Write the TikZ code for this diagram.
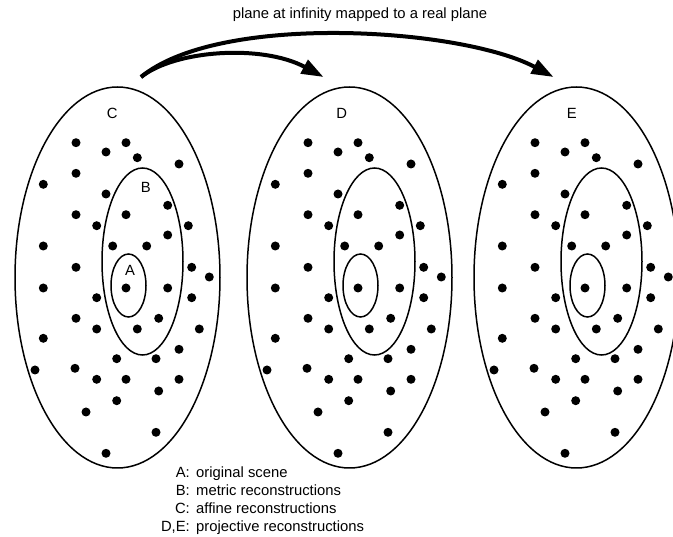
\documentclass[tikz,border=0pt]{standalone}
\usepackage{fontspec}
\setmainfont{Liberation Sans}
\usetikzlibrary{arrows.meta}
\tikzset{
  every node/.style={font=\fontsize{14.8}{17}\selectfont, inner sep=0pt},
  ring/.style={draw=black, line width=1.5pt},
  bigarrow/.style={line width=4pt, -{Triangle[length=22pt,width=15pt]}},
  dot/.style={fill=black}
}
\newcommand{\dotset}{(76,142.7),(126,142.7),(106,152),(137.3,157.7),(179,164),(76,173.3),(43.3,184.3),(106,194),(167.7,205.3),(76,214.7),(126,214.7),(96.7,225.7),(188.3,225.7),(167.7,235),(43.3,246),(112.7,246),(146.7,246),(76,267.3),(191.7,267.3),(209.3,277),(43.3,288),(126,288),(167.7,288),(96.7,297.7),(191.7,297.7),(76,318.3),(158.7,318.3),(96.7,329),(137.3,329),(199.3,329),(43.3,338.3),(179,349.3),(116.7,358.7),(156,358.7),(35,370),(75,368.3),(96.7,379.3),(126,379.3),(179,379.3),(158.7,391),(116.7,400.7),(86,412),(156,432.3),(106,453.3)}
\begin{document}
\begin{tikzpicture}[x=1pt,y=-1pt]
\useasboundingbox (0,0) rectangle (673,537);
\fill[white] (0,0) rectangle (673,537);
\clip (0,0) rectangle (673,537);
% panels
\foreach \off in {0, 232, 459}{
  \begin{scope}[xshift=\off pt]
    \draw[ring] (117.5,277.5) ellipse [x radius=102.5, y radius=190.5];
    \draw[ring] (142.5,261.5) ellipse [x radius=40.5, y radius=93.5];
    \draw[ring] (128.5,285.5) ellipse [x radius=17.5, y radius=31.5];
    \foreach \p in \dotset { \fill[dot] \p circle (4.5); }
  \end{scope}
}
\node (lC) at (112.3,113.3) {C};
\node (lD) at (341.7,113.3) {D};
\node (lE) at (571.7,113.3) {E};
\node (lB) at (145.7,187.7) {B};
\node (lA) at (130,270.7) {A};
% arrows
\coordinate (s) at (141,77);
\coordinate (tD) at (323.5,77);
\coordinate (tE) at (553.5,77);
\draw[bigarrow] (s) .. controls (175,50) and (262,44) .. (tD);
\draw[bigarrow] (s) .. controls (220,12) and (462,28) .. (tE);
\node[anchor=base west] (title) at (232.7,19) {plane at infinity mapped to a real plane};
% legend
\node[anchor=base east] (kA) at (190,478) {A:};
\node[anchor=base west] (vA) at (196,478) {original scene};
\node[anchor=base east] (kB) at (190,496) {B:};
\node[anchor=base west] (vB) at (196,496) {metric reconstructions};
\node[anchor=base east] (kC) at (190,514) {C:};
\node[anchor=base west] (vC) at (196,514) {affine reconstructions};
\node[anchor=base east] (kD) at (190,532) {D,E:};
\node[anchor=base west] (vD) at (196,532) {projective reconstructions};
\end{tikzpicture}
\end{document}
